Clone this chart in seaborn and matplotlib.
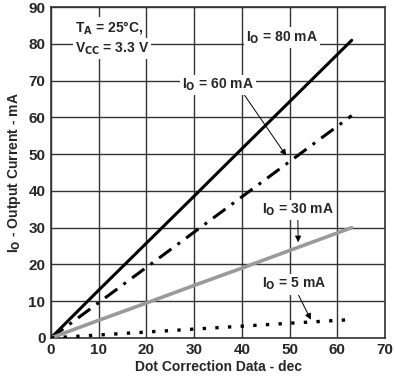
import pandas as pd
import numpy as np
import matplotlib
matplotlib.use('Agg')
import matplotlib.pyplot as plt
import seaborn as sns

# ── Data ──────────────────────────────────────────────────────────────────────
dc = [0, 5, 10, 20, 30, 40, 50, 63]
io_80 = [0, 6.5, 13.0, 25.8, 38.6, 51.5, 64.3, 81.0]
io_60 = [0, 4.8, 9.6, 19.2, 28.8, 38.4, 48.0, 60.5]
io_30 = [0, 2.4, 4.8, 9.5, 14.3, 19.0, 23.8, 30.0]
io_5 = [0, 0.4, 0.8, 1.6, 2.4, 3.2, 4.0, 5.0]

x_ticks = [0, 10, 20, 30, 40, 50, 60, 70]
y_ticks = [0, 10, 20, 30, 40, 50, 60, 70, 80, 90]

df = pd.DataFrame({'dc': dc * 4,
                   'io': io_80 + io_60 + io_30 + io_5,
                   'curve': ['80'] * 8 + ['60'] * 8 + ['30'] * 8 + ['5'] * 8})

# ── Plot ──────────────────────────────────────────────────────────────────────
sns.set_style('white')
plt.rcParams['font.family'] = ['Liberation Sans', 'DejaVu Sans']
plt.rcParams['font.weight'] = 'bold'

fig = plt.figure(figsize=(3.95, 3.78), dpi=100)
ax = fig.add_axes([0.129, 0.106, 0.846, 0.875])

styles = {
    '80': dict(color='black', lw=2.2, ls='-'),
    '60': dict(color='black', lw=2.2, ls=(0, (5, 2.5, 1, 2.5))),
    '30': dict(color='#9a9a9a', lw=2.6, ls='-'),
    '5': dict(color='black', lw=2.4, ls=(0, (1, 2.8))),
}
for name, st in styles.items():
    sub = df[df['curve'] == name]
    sns.lineplot(data=sub, x='dc', y='io', ax=ax, color=st['color'],
                 lw=st['lw'], ls=st['ls'], legend=False, zorder=3)

ax.set_xlim(0, 70)
ax.set_ylim(0, 90)
ax.set_xticks(x_ticks)
ax.set_yticks(y_ticks)
ax.grid(True, color='#333333', lw=1.0)
for s in ax.spines.values():
    s.set_color('#333333')
    s.set_linewidth(1.2)
ax.tick_params(labelsize=11, length=0, pad=4)
for lab in ax.get_xticklabels() + ax.get_yticklabels():
    lab.set_fontweight('bold')
ax.set_xlabel('Dot Correction Data - dec', fontsize=10, fontweight='bold', labelpad=2)
ax.set_ylabel('I$_\\mathbf{O}$ - Output Current - mA', fontsize=10, fontweight='bold', labelpad=4)

box = dict(facecolor='white', edgecolor='none', pad=1.5)
ax.text(5, 84.5, 'T$_\\mathbf{A}$ = 25°C,', fontsize=10, fontweight='bold',
        va='center', ha='left', bbox=box, zorder=4)
ax.text(5, 78.8, 'V$_\\mathbf{CC}$ = 3.3 V', fontsize=10, fontweight='bold',
        va='center', ha='left', bbox=box, zorder=4)
ax.text(40.8, 81.8, 'I$_\\mathbf{O}$ = 80 mA', fontsize=10, fontweight='bold',
        va='center', ha='left', bbox=box, zorder=4)

arrow = dict(arrowstyle='-|>', color='black', lw=0.7, mutation_scale=9)
ax.annotate('I$_\\mathbf{O}$ = 60 mA', xy=(49.6, 49.0), xytext=(27.5, 68.8),
            fontsize=10, fontweight='bold', va='center', ha='left', bbox=box,
            arrowprops=dict(arrow, shrinkA=0, relpos=(0.85, 0)), zorder=4)
ax.annotate('I$_\\mathbf{O}$ = 30 mA', xy=(51.8, 25.3), xytext=(44.2, 34.8),
            fontsize=10, fontweight='bold', va='center', ha='left', bbox=box,
            arrowprops=dict(arrow, shrinkA=0, relpos=(0.5, 0)), zorder=4)
ax.annotate('I$_\\mathbf{O}$ = 5 mA', xy=(54.7, 4.3), xytext=(44.2, 14.6),
            fontsize=10, fontweight='bold', va='center', ha='left', bbox=box,
            arrowprops=dict(arrow, shrinkA=0, relpos=(0.55, 0)), zorder=4)

plt.savefig('out.png', dpi=100)
